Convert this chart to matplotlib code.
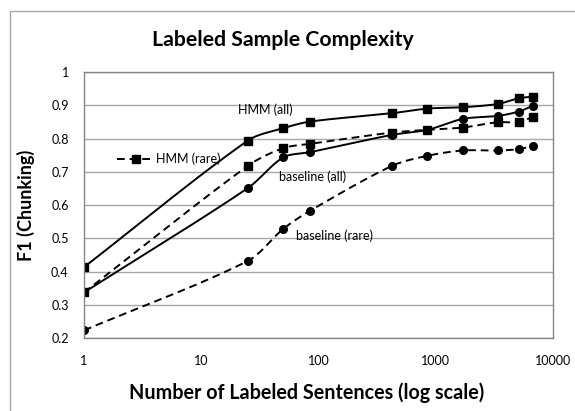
import numpy as np
import matplotlib
matplotlib.use("Agg")
import matplotlib.pyplot as plt
from matplotlib.patches import Rectangle

plt.rcParams['font.family'] = ['Lato', 'DejaVu Sans']

# number of labeled sentences
sentences = [1, 25, 50, 85, 425, 850, 1700, 3400, 5100, 6800]

hmm_all = [0.413, 0.794, 0.831, 0.851, 0.876, 0.890, 0.894, 0.904, 0.921, 0.926]
baseline_all = [0.337, 0.651, 0.743, 0.759, 0.811, 0.826, 0.859, 0.868, 0.881, 0.899]
hmm_rare = [0.337, 0.718, 0.771, 0.784, 0.818, 0.826, 0.833, 0.849, 0.849, 0.866]
baseline_rare = [0.223, 0.432, 0.528, 0.583, 0.718, 0.748, 0.764, 0.764, 0.768, 0.778]

# approx. pixel scale of the plot area, used only to shape the smoothing
XPX, YPX = 117.7, 333.0


def smooth(xs, ys, n=30, k=0.3):
    # Excel-like smoothed line, bezier segments in (log x, y) pixel space
    p = np.column_stack([np.log10(xs) * XPX, np.asarray(ys, dtype=float) * YPX])
    m = len(p)
    tang = []
    for i in range(m):
        a = p[max(i - 1, 0)]
        b = p[min(i + 1, m - 1)]
        d = b - a
        tang.append(d / np.linalg.norm(d))
    out = []
    t = np.linspace(0, 1, n)[:, None]
    for i in range(m - 1):
        p1, p2 = p[i], p[i + 1]
        L = np.linalg.norm(p2 - p1)
        c1 = p1 + tang[i] * L * k
        c2 = p2 - tang[i + 1] * L * k
        seg = (1-t)**3*p1 + 3*(1-t)**2*t*c1 + 3*(1-t)*t**2*c2 + t**3*p2
        out.append(seg)
    out = np.vstack(out)
    return 10 ** (out[:, 0] / XPX), out[:, 1] / YPX


fig = plt.figure(figsize=(5.75, 4.11), dpi=100)
ax = fig.add_axes([0.1461, 0.1776, 0.8156, 0.6472])

# chart border (clipped at right/bottom like the source)
fig.patches.append(Rectangle((9.5 / 575, -0.1), 1.2, 1 - 11 / 411 + 0.1,
                             transform=fig.transFigure, fill=False,
                             edgecolor='#a6a6a6', linewidth=1.0))

series = [
    (hmm_all, '-', 's'),
    (baseline_all, '-', 'o'),
    (hmm_rare, '--', 's'),
    (baseline_rare, '--', 'o'),
]
for ys, ls, mk in series:
    sx, sy = smooth(sentences, ys)
    if ls == '--':
        ax.plot(sx, sy, color='black', linestyle='--', dashes=(4, 2.5), linewidth=1.4)
    else:
        ax.plot(sx, sy, color='black', linewidth=1.4)
    ax.plot(sentences, ys, linestyle='none', marker=mk, color='black', markersize=5.5)

ax.set_xscale('log')
ax.set_xlim(1, 10000)
ax.set_ylim(0.2, 1.0)
ax.set_xticks([1, 10, 100, 1000, 10000])
ax.set_xticklabels(['1', '10', '100', '1000', '10000'])
ax.set_yticks(np.arange(0.2, 1.01, 0.1))
ax.set_yticklabels(['0.2', '0.3', '0.4', '0.5', '0.6', '0.7', '0.8', '0.9', '1'])
ax.minorticks_off()
ax.tick_params(length=0, labelsize=9)
ax.tick_params(axis='y', pad=11)
ax.tick_params(axis='x', pad=12)
ax.grid(axis='y', color='#a6a6a6', linewidth=1.0)
ax.set_axisbelow(True)
for s in ax.spines.values():
    s.set_color('#868686')
    s.set_linewidth(1.0)

fig.text(283 / 575, 1 - 40 / 411, 'Labeled Sample Complexity', fontsize=15.3,
         fontweight='bold', ha='center', va='center')
fig.text(307 / 575, 1 - 393 / 411, 'Number of Labeled Sentences (log scale)', fontsize=14.2,
         fontweight='bold', ha='center', va='center')
fig.text(26 / 575, 1 - 205 / 411, 'F1 (Chunking)', fontsize=13, fontweight='bold',
         ha='center', va='center', rotation=90)

ax.text(0.386, 0.857, 'HMM (all)', transform=ax.transAxes, ha='center', va='center', fontsize=9)
ax.text(0.488, 0.605, 'baseline (all)', transform=ax.transAxes, ha='center', va='center', fontsize=9)
ax.text(0.535, 0.383, 'baseline (rare)', transform=ax.transAxes, ha='center', va='center', fontsize=9)

leg_handle = plt.Line2D([], [], color='black', linestyle='--', dashes=(4, 2.5),
                        marker='s', markersize=5.5, linewidth=1.4)
ax.legend([leg_handle], ['HMM (rare)'], loc='center left', bbox_to_anchor=(0.07, 0.673),
          frameon=False, fontsize=9, borderpad=0, borderaxespad=0,
          handlelength=3.0, handletextpad=0.1)

fig.savefig('out.png', dpi=100)
